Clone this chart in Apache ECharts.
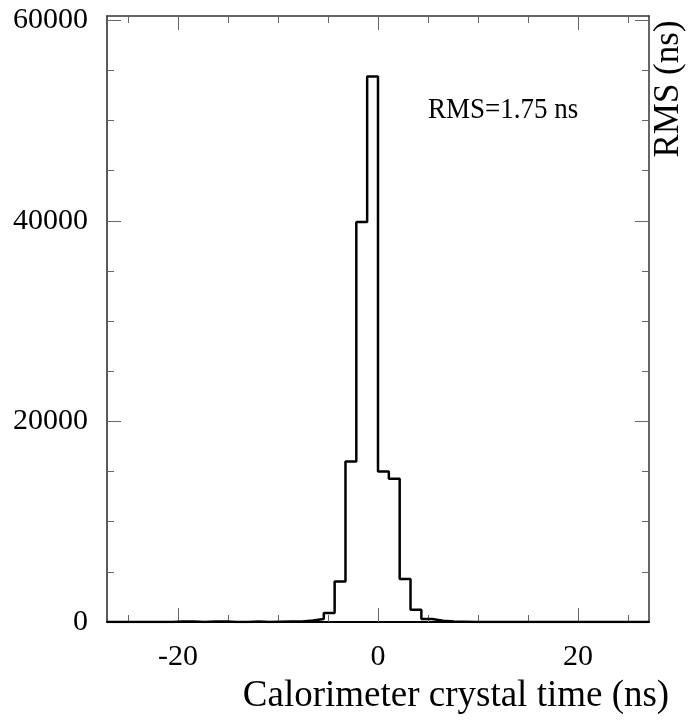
<!DOCTYPE html>
<html>
<head>
<meta charset="utf-8">
<script src="https://cdn.jsdelivr.net/npm/echarts@6/dist/echarts.min.js"></script>
<style>
  html, body { margin: 0; padding: 0; background: #fff; }
  #main { width: 694px; height: 721px; }
</style>
</head>
<body>
<div id="main"></div>
<script>
// histogram binning (ns)
var binLow = -27.1;
var binWidth = 1.084;
// counts per bin, 50 bins from binLow
var counts = [
    0, 0, 0, 0, 0, 0, 50, 50, 0, 50,
    50, 0, 0, 50, 0, 30, 40, 50, 160, 300,
    900, 4040, 16000, 39900, 54400, 15000, 14280, 4280, 1230, 300,
    130, 60, 30, 0, 0, 0, 0, 0, 0, 0,
    0, 0, 0, 0, 0, 0, 0, 0, 0, 0
];
var xMajor = [-20, 0, 20];
var xMinor = [-25, -20, -15, -10, -5, 0, 5, 10, 15, 20, 25];
var yMajor = [0, 20000, 40000, 60000];
var yMinor = [0, 5000, 10000, 15000, 20000, 25000, 30000, 35000, 40000, 45000, 50000, 55000, 60000];
var rmsText = 'RMS=1.75 ns';

var serif = "'Liberation Serif', 'Times New Roman', serif";

var steps = [];
for (var i = 0; i < counts.length; i++) {
    steps.push([binLow + i * binWidth, counts[i]]);
}
steps.push([binLow + counts.length * binWidth, counts[counts.length - 1]]);

var xMin = binLow, xMax = binLow + counts.length * binWidth;
var yMin = 0, yMax = 60430;

function xAx(pos, ticks, len, lbl, line) {
    return {
        type: 'value', position: pos, min: xMin, max: xMax,
        splitLine: { show: false },
        axisLine: { show: !!line, onZero: false, lineStyle: line || {} },
        axisTick: { show: true, inside: true, length: len, customValues: ticks,
            lineStyle: { color: '#666', width: 1 } },
        axisLabel: lbl ? {
            show: true, customValues: xMajor, margin: 20,
            fontFamily: serif, fontSize: 30, color: '#000',
            formatter: function (v) { return String(v); }
        } : { show: false }
    };
}
function yAx(pos, ticks, len, lbl, line) {
    return {
        type: 'value', position: pos, min: yMin, max: yMax,
        splitLine: { show: false },
        axisLine: { show: !!line, onZero: false, lineStyle: line || {} },
        axisTick: { show: true, inside: true, length: len, customValues: ticks,
            lineStyle: { color: '#666', width: 1 } },
        axisLabel: lbl ? {
            show: true, customValues: yMajor, margin: 19,
            fontFamily: serif, fontSize: 30, color: '#000',
            formatter: function (v) { return String(v); }
        } : { show: false }
    };
}

var chart = echarts.init(document.getElementById('main'));
var option = {
    backgroundColor: '#fff',
    animation: false,
    grid: { left: 107, right: 45, top: 16, bottom: 99, containLabel: false, outerBoundsMode: 'none' },
    xAxis: [
        xAx('bottom', xMajor, 14, true, { color: '#000', width: 2 }),
        xAx('bottom', xMinor, 7, false, null),
        xAx('top', xMajor, 14, false, { color: '#333', width: 1.5 }),
        xAx('top', xMinor, 7, false, null)
    ],
    yAxis: [
        yAx('left', yMajor, 14, true, { color: '#222', width: 1.5 }),
        yAx('left', yMinor, 7, false, null),
        yAx('right', yMajor, 14, false, { color: '#333', width: 1.5 }),
        yAx('right', yMinor, 7, false, null)
    ],
    series: [{
        type: 'line',
        xAxisIndex: 0, yAxisIndex: 0,
        step: 'end',
        showSymbol: false,
        data: steps,
        lineStyle: { color: '#000', width: 2.5 },
        z: 5
    }],
    graphic: [
        { type: 'text', x: 428, y: 110, scaleY: 1.1,
          style: { text: rmsText, fontSize: 27, fontFamily: serif, fill: '#000', verticalAlign: 'middle' } },
        { type: 'text', x: 669, y: 89, rotation: Math.PI / 2,
          style: { text: 'RMS (ns)', fontSize: 35, fontFamily: serif, fill: '#000', align: 'center', verticalAlign: 'middle' } },
        { type: 'text', x: 456, y: 696, scaleY: 1.05,
          style: { text: 'Calorimeter crystal time (ns)', fontSize: 37, fontFamily: serif, fill: '#000', align: 'center', verticalAlign: 'middle' } }
    ]
};
chart.setOption(option);
</script>
</body>
</html>
